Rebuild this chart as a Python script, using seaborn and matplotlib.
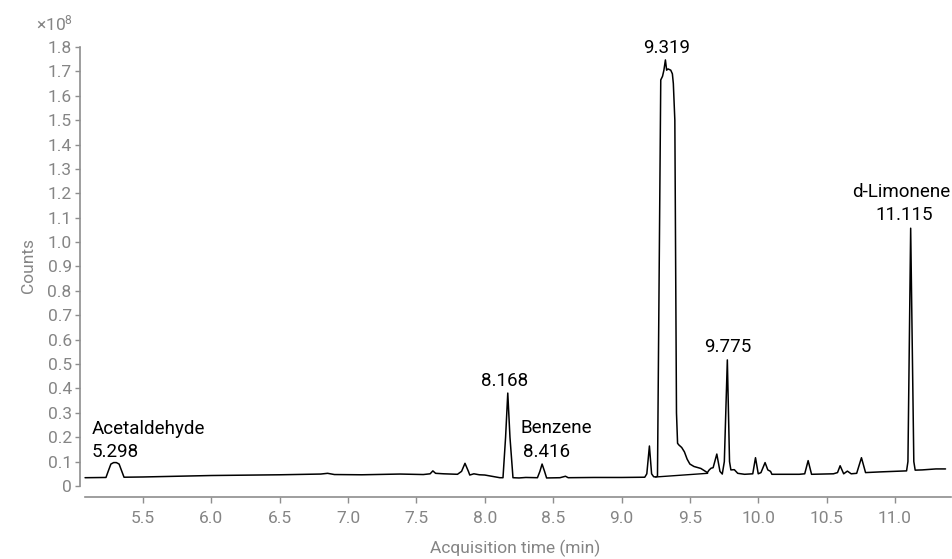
import matplotlib
matplotlib.use("Agg")
import matplotlib.pyplot as plt
import pandas as pd
import seaborn as sns

# chromatogram trace (counts in units of 1e8)
time_min = [5.076, 5.229, 5.245, 5.265, 5.285, 5.305, 5.325, 5.345, 5.361,
            5.5, 6.0, 6.5, 6.8, 6.85, 6.9, 7.1, 7.38, 7.55, 7.6, 7.62, 7.64,
            7.7, 7.8, 7.83, 7.855, 7.88, 7.89, 7.92, 7.96, 8.0, 8.05, 8.11,
            8.133, 8.152, 8.168, 8.184, 8.206, 8.25, 8.3, 8.385, 8.403, 8.419,
            8.437, 8.452, 8.55, 8.59, 8.61, 8.8, 9.0, 9.17, 9.185, 9.204, 9.22,
            9.235, 9.25, 9.263, 9.287, 9.30, 9.31, 9.321, 9.33, 9.34, 9.36,
            9.372, 9.379, 9.39, 9.402, 9.41, 9.42, 9.44, 9.46, 9.48, 9.50,
            9.53, 9.58, 9.628, 9.64, 9.655, 9.67, 9.697, 9.72, 9.737, 9.752,
            9.774, 9.79, 9.80, 9.825, 9.85, 9.9, 9.96, 9.98, 10.0, 10.02,
            10.05, 10.07, 10.09, 10.1, 10.3, 10.34, 10.365, 10.39, 10.55,
            10.58, 10.599, 10.625, 10.652, 10.68, 10.72, 10.755, 10.785, 10.9,
            11.085, 11.095, 11.115, 11.138, 11.148, 11.2, 11.25, 11.3, 11.37]
counts = [0.034, 0.035, 0.06, 0.090, 0.096, 0.096, 0.090, 0.06, 0.036,
          0.037, 0.043, 0.046, 0.049, 0.052, 0.047, 0.046, 0.049, 0.047, 0.05,
          0.062, 0.052, 0.050, 0.048, 0.06, 0.093, 0.06, 0.045, 0.050, 0.046,
          0.045, 0.040, 0.034, 0.034, 0.2, 0.381, 0.2, 0.034, 0.033, 0.035,
          0.034, 0.06, 0.09, 0.06, 0.033, 0.034, 0.040, 0.034, 0.035, 0.035,
          0.036, 0.05, 0.164, 0.05, 0.038, 0.037, 0.04, 1.665, 1.68, 1.705,
          1.747, 1.705, 1.71, 1.705, 1.69, 1.65, 1.5, 0.3, 0.175, 0.168,
          0.158, 0.14, 0.11, 0.09, 0.08, 0.072, 0.055, 0.065, 0.073, 0.075,
          0.131, 0.06, 0.049, 0.1, 0.517, 0.1, 0.066, 0.067, 0.052, 0.048,
          0.05, 0.116, 0.05, 0.055, 0.096, 0.066, 0.06, 0.048, 0.048, 0.05,
          0.104, 0.048, 0.05, 0.055, 0.083, 0.05, 0.061, 0.05, 0.052, 0.116,
          0.055, 0.058, 0.062, 0.1, 1.057, 0.1, 0.065, 0.066, 0.068, 0.070,
          0.070]

# integration baseline under the big peak
base_time = [9.25, 9.63]
base_counts = [0.037, 0.052]

# peak labels: text, x, y, alignment
labels = [("9.319", 9.332, 1.796, "center"),
          ("Acetaldehyde", 5.125, 0.234, "left"),
          ("5.298", 5.125, 0.139, "left"),
          ("8.168", 8.145, 0.43, "center"),
          ("Benzene", 8.523, 0.238, "center"),
          ("8.416", 8.455, 0.139, "center"),
          ("9.775", 9.774, 0.571, "center"),
          ("d-Limonene", 11.043, 1.204, "center"),
          ("11.115", 11.065, 1.111, "center")]

xticks = [5.5, 6.0, 6.5, 7.0, 7.5, 8.0, 8.5, 9.0, 9.5, 10.0, 10.5, 11.0]
yticks = [0, 0.1, 0.2, 0.3, 0.4, 0.5, 0.6, 0.7, 0.8, 0.9, 1.0, 1.1, 1.2,
          1.3, 1.4, 1.5, 1.6, 1.7, 1.8]

sns.set_theme(style="ticks")
plt.rcParams["font.family"] = ["Roboto", "DejaVu Sans"]
plt.rcParams["mathtext.default"] = "regular"

grey = "#858585"
spine_grey = "#8e8e8e"

df = pd.DataFrame({"t": time_min, "c": counts})
base = pd.DataFrame({"t": base_time, "c": base_counts})

fig = plt.figure(figsize=(9.53, 5.59), dpi=100)
ax = fig.add_axes([80 / 953, 62 / 559, 871 / 953, 462.2 / 559])

sns.lineplot(data=df, x="t", y="c", sort=False, estimator=None, color="black", lw=1.1, ax=ax)
sns.lineplot(data=base, x="t", y="c", sort=False, estimator=None, color="black", lw=1.0, ax=ax)

ax.set_xlim(5.039, 11.41)
ax.set_ylim(-0.0451, 1.85)

ax.set_xticks(xticks)
ax.set_xticklabels([f"{v:.1f}" for v in xticks])
ax.set_yticks(yticks)
ax.set_yticklabels(["0"] + [f"{v:.1f}" for v in yticks[1:]])

ax.tick_params(axis="x", colors=spine_grey, labelcolor=grey, labelsize=12.5, length=4, width=1, pad=6)
ax.tick_params(axis="y", colors=spine_grey, labelcolor=grey, labelsize=12.5, length=3.5, width=1, pad=2.5)

for s in ["top", "right"]:
    ax.spines[s].set_visible(False)
ax.spines["left"].set_bounds(0, 1.8)
ax.spines["bottom"].set_bounds(5.076, 11.41)
for s in ["left", "bottom"]:
    ax.spines[s].set_color(spine_grey)
    ax.spines[s].set_linewidth(1.2)

ax.set_xlabel("Acquisition time (min)", color=grey, fontsize=12.5, labelpad=10)
ax.set_ylabel("Counts", color=grey, fontsize=12.5, labelpad=8)

for txt, x, y, ha in labels:
    ax.text(x, y, txt, ha=ha, va="center", fontsize=13.5, color="black")

fig.text(73 / 953, 1 - 23 / 559, "×10$^{8}$", ha="right", va="center", color=grey, fontsize=12.5)

fig.savefig("out.png", dpi=100)
